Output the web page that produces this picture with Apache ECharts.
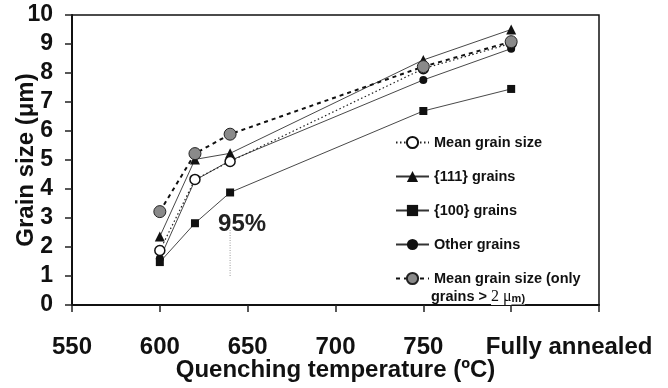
<!DOCTYPE html>
<html>
<head>
<meta charset="utf-8">
<script src="https://cdn.jsdelivr.net/npm/echarts@6/dist/echarts.min.js"></script>
<style>
  html, body { margin: 0; padding: 0; background: #fff; }
  #chart { width: 668px; height: 388px; }
</style>
</head>
<body>
<div id="chart"></div>
<script>
// Quenching temperature (800 stands for the fully annealed state)
const temps = [600, 620, 640, 750, 800];
// Grain sizes in micrometres
const meanSize   = [1.88, 4.33, 4.95, 8.15, 9.02];
const grains111  = [2.36, 5.02, 5.23, 8.45, 9.50];
const grains100  = [1.48, 2.82, 3.88, 6.69, 7.45];
const otherSize  = [1.60, 4.30, 4.98, 7.76, 8.84];
const meanOver2  = [3.22, 5.22, 5.89, 8.22, 9.08];

// x-axis tick labels, keyed by tick value
const xTicks = [550, 600, 650, 700, 750, 800, 850];
const xTickLabels = ['550', '600', '650', '700', '750', 'Fully annealed', ''];

// "95%" marker: vertical guide and its label
const annotLine = [[640, 1.0], [640, 2.6]];
const annotText = '95%';

const seriesNames = ['Mean grain size', '{111} grains', '{100} grains', 'Other grains', 'Mean grain size (only'];

const FONT = '"Liberation Sans", Arial, sans-serif';
const pairs = arr => temps.map((t, i) => [t, arr[i]]);

const chart = echarts.init(document.getElementById('chart'), null, { renderer: 'canvas' });

chart.setOption({
  animation: false,
  backgroundColor: '#fff',
  grid: {
    left: 72, top: 15, right: 69, bottom: 83,
    containLabel: false, outerBoundsMode: 'none',
    show: true, borderColor: '#111', borderWidth: 1.5
  },
  xAxis: {
    type: 'value', min: 550, max: 850, interval: 50,
    name: 'Quenching temperature (ºC)', nameLocation: 'middle', nameGap: 53, nameMoveOverlap: false,
    nameTextStyle: { fontFamily: FONT, fontWeight: 'bold', fontSize: 24, color: '#111' },
    axisLine: { show: true, onZero: false, lineStyle: { color: '#111', width: 2 } },
    axisTick: { show: true, inside: false, length: 7, lineStyle: { color: '#222', width: 1.5 } },
    splitLine: { show: false },
    axisLabel: {
      margin: 30, fontFamily: FONT, fontWeight: 'bold', fontSize: 24, color: '#111',
      showMaxLabel: true, showMinLabel: true, hideOverlap: false,
      formatter: v => {
        const i = xTicks.indexOf(v);
        const s = i >= 0 ? xTickLabels[i] : '';
        return s.length > 3 ? '{fa|' + s + '}' : s;
      },
      rich: { fa: { fontFamily: FONT, fontWeight: 'bold', fontSize: 24, color: '#111', padding: [0, 0, 0, 116] } }
    }
  },
  yAxis: {
    type: 'value', min: 0, max: 10, interval: 1,
    name: 'Grain size (\u03bcm)', nameLocation: 'middle', nameGap: 34, nameMoveOverlap: false,
    nameTextStyle: { fontFamily: FONT, fontWeight: 'bold', fontSize: 24, color: '#111' },
    axisLine: { show: true, lineStyle: { color: '#111', width: 2 } },
    axisTick: { show: true, inside: false, length: 7, lineStyle: { color: '#222', width: 1.5 } },
    splitLine: { show: false },
    axisLabel: { margin: 19, fontFamily: FONT, fontWeight: 'bold', fontSize: 23, color: '#111' }
  },
  legend: {
    orient: 'vertical', left: 390, top: 130,
    itemWidth: 33, itemHeight: 14, itemGap: 19,
    data: seriesNames,
    textStyle: { fontFamily: FONT, fontWeight: 'bold', fontSize: 14.5, color: '#111' }
  },
  series: [
    {
      name: seriesNames[0], type: 'line', data: pairs(meanSize), z: 4,
      symbol: 'circle', symbolSize: 10,
      itemStyle: { color: '#fff', borderColor: '#111', borderWidth: 1.5 },
      lineStyle: { color: '#222', width: 1.2, type: [1.5, 2.5] }
    },
    {
      name: seriesNames[1], type: 'line', data: pairs(grains111), z: 3,
      symbol: 'triangle', symbolSize: 10,
      itemStyle: { color: '#111' },
      lineStyle: { color: '#333', width: 0.9 }
    },
    {
      name: seriesNames[2], type: 'line', data: pairs(grains100), z: 5,
      symbol: 'rect', symbolSize: 8,
      itemStyle: { color: '#111' },
      lineStyle: { color: '#333', width: 0.9 }
    },
    {
      name: seriesNames[3], type: 'line', data: pairs(otherSize), z: 2,
      symbol: 'circle', symbolSize: 8,
      itemStyle: { color: '#111' },
      lineStyle: { color: '#333', width: 0.9 }
    },
    {
      name: seriesNames[4], type: 'line', data: pairs(meanOver2), z: 6,
      symbol: 'circle', symbolSize: 12,
      itemStyle: { color: '#8a8a8a', borderColor: '#222', borderWidth: 1 },
      lineStyle: { color: '#111', width: 2, type: [4, 4] }
    },
    {
      name: 'annotation', type: 'line', data: annotLine, z: 1,
      symbol: 'none', silent: true,
      lineStyle: { color: '#999', width: 1, type: [1, 1.5] },
      markPoint: {
        symbol: 'rect', symbolSize: 1, itemStyle: { color: 'rgba(0,0,0,0)' },
        data: [{ coord: annotLine[1] }],
        label: {
          show: true, position: 'inside', offset: [12, -5], formatter: annotText,
          fontFamily: FONT, fontWeight: 'bold', fontSize: 24, color: '#222'
        }
      }
    }
  ],
  graphic: [
    {
      type: 'text', left: 431, top: 289, z: 100,
      style: {
        text: '{b|grains > }{s|2 \u03bc}{m|m)}',
        rich: {
          b: { fontFamily: FONT, fontWeight: 'bold', fontSize: 14.5, fill: '#111' },
          s: { fontFamily: '"Liberation Serif", serif', fontSize: 16, fill: '#111', backgroundColor: '#fff' },
          m: { fontFamily: FONT, fontWeight: 'bold', fontSize: 11, fill: '#111', backgroundColor: '#fff', padding: [4, 0, 0, 0] }
        }
      }
    }
  ]
});
</script>
</body>
</html>
